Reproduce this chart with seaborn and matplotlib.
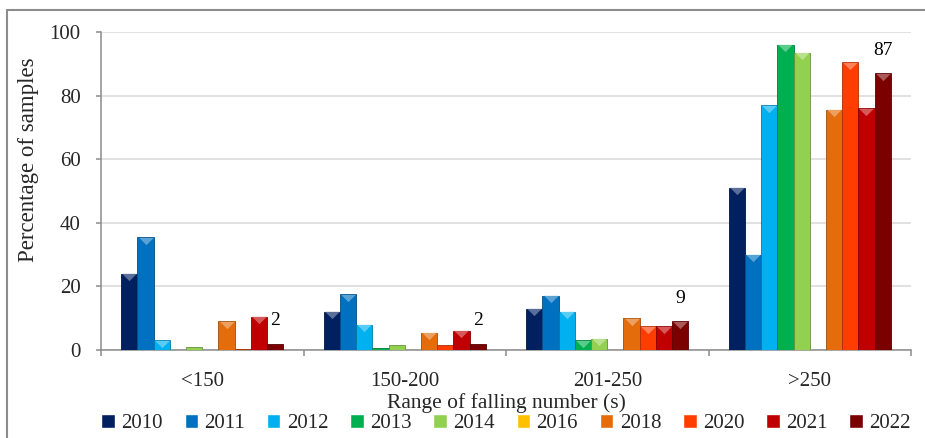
import numpy as np
import pandas as pd
import matplotlib
matplotlib.use("Agg")
import matplotlib.pyplot as plt
from matplotlib.lines import Line2D
from matplotlib.transforms import ScaledTranslation
from matplotlib.path import Path
import matplotlib.colors as mcolors
import seaborn as sns

# Falling-number ranges (s) and sampling years
ranges = ["<150", "150-200", "201-250", ">250"]
years = ["2010", "2011", "2012", "2013", "2014", "2016", "2018", "2020", "2021", "2022"]

# Percentage of samples in each range, one value per year (same order as `years`)
pct_below_150 = [24, 35.5, 3, 0, 1, 0, 9, 0.3, 10.5, 2]
pct_150_200 = [12, 17.5, 8, 0.5, 1.5, 0, 5.5, 1.5, 6, 2]
pct_201_250 = [13, 17, 12, 3, 3.5, 0, 10, 7.5, 7.5, 9]
pct_above_250 = [51, 30, 77, 96, 93.5, 0, 75.5, 90.5, 76, 87]

# Years whose bars carry a value label
labelled_years = ["2022"]

year_colors = ["#002060", "#0070C0", "#00B0F0", "#00B050", "#92D050",
               "#FFC000", "#E46C0A", "#FF3D00", "#C00000", "#7B0000"]

yticks = [0, 20, 40, 60, 80, 100]

df = pd.DataFrame({
    "range": np.repeat(ranges, len(years)),
    "year": years * len(ranges),
    "pct": pct_below_150 + pct_150_200 + pct_201_250 + pct_above_250,
})

sns.set_style("white")
plt.rcParams["font.family"] = ["Liberation Serif", "DejaVu Serif"]

fig = plt.figure(figsize=(9.25, 4.38), dpi=100)
W, H = 925, 438
ax = fig.add_axes([101 / W, 1 - 350 / H, 810 / W, 318 / H])

sns.barplot(data=df, x="range", y="pct", hue="year", order=ranges,
            hue_order=years, palette=year_colors, saturation=1,
            width=0.8, errorbar=None, ax=ax, zorder=3)

# darker outline and light bevel triangle on every bar top
tri = Path([(-1, 0.5), (1, 0.5), (0, -0.5), (-1, 0.5)],
           [Path.MOVETO, Path.LINETO, Path.LINETO, Path.CLOSEPOLY])
shift = ax.transData + ScaledTranslation(0, -0.035, fig.dpi_scale_trans)
for cont, col in zip(ax.containers, year_colors):
    rgb = np.array(mcolors.to_rgb(col))
    dark = rgb * 0.7
    light = rgb + (1 - rgb) * 0.35
    for bar in cont.patches:
        bar.set_edgecolor(dark)
        bar.set_linewidth(0.6)
        h = bar.get_height()
        if h >= 2.5:
            xc = bar.get_x() + bar.get_width() / 2
            ax.plot([xc], [h], marker=tri, markersize=10.5, color=light,
                    markeredgewidth=0, transform=shift, zorder=4, clip_on=False)

# value labels above the labelled series
for cont, yr in zip(ax.containers, years):
    if yr in labelled_years:
        for bar in cont.patches:
            v = bar.get_height()
            ax.annotate(f"{v:g}", (bar.get_x() + bar.get_width() / 2, v),
                        xytext=(0, 16.5), textcoords="offset points",
                        ha="center", va="center", fontsize=14, color="black")

ax.set_ylim(0, 100)
ax.set_xlim(-0.5, len(ranges) - 0.5)
ax.set_yticks(yticks)
ax.yaxis.grid(True, color="#d9d9d9", linewidth=1.1, zorder=0)
ax.xaxis.grid(False)
ax.set_axisbelow(True)

for s in ["top", "right"]:
    ax.spines[s].set_visible(False)
for s in ["left", "bottom"]:
    ax.spines[s].set_color("#8c8c8c")
    ax.spines[s].set_linewidth(1.1)

ax.tick_params(axis="y", which="major", direction="out", length=3.6, width=1.1,
               color="#8c8c8c", labelsize=15, pad=11, left=True)
ax.set_xticks(np.arange(len(ranges)))
ax.set_xticklabels(ranges)
ax.set_xticks(np.arange(len(ranges) + 1) - 0.5, minor=True)
ax.tick_params(axis="x", which="major", length=0, labelsize=15, pad=16)
ax.tick_params(axis="x", which="minor", direction="out", length=4.5, width=1.1,
               color="#8c8c8c", bottom=True)

ax.set_ylabel("Percentage of samples", fontsize=16.5)
ax.yaxis.set_label_coords(-0.089, 0.6)
ax.yaxis.label.set_verticalalignment("center")
ax.set_xlabel("Range of falling number (s)", fontsize=15.5)
ax.xaxis.set_label_coords(0.5, -0.168)
ax.xaxis.label.set_verticalalignment("center")

handles, labels = ax.get_legend_handles_labels()
ax.legend(handles, labels, ncol=len(years), loc="center",
          bbox_to_anchor=(0.5, -0.232), frameon=False, fontsize=15,
          handlelength=0.65, handleheight=0.65, handletextpad=0.3,
          columnspacing=1.05, borderaxespad=0, borderpad=0)

# outer chart-area frame
fig.add_artist(Line2D([6.5 / W, 6.5 / W], [0, 1 - 10 / H], color="#8c8c8c",
                      linewidth=1.5, transform=fig.transFigure))
fig.add_artist(Line2D([6.5 / W, 1], [1 - 10 / H, 1 - 10 / H], color="#8c8c8c",
                      linewidth=1.5, transform=fig.transFigure))

fig.savefig("out.png", dpi=100, facecolor="white")
